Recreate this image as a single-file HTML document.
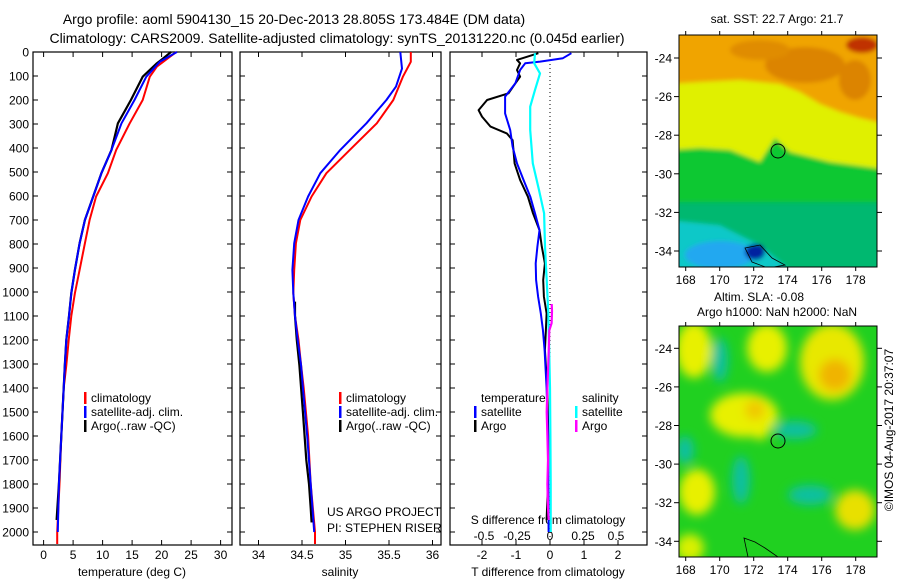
<!DOCTYPE html>
<html><head><meta charset="utf-8"><style>
body{margin:0;background:#fff;}
svg{display:block;font-family:"Liberation Sans",sans-serif;}
</style></head><body>
<svg id="c" width="900" height="580" viewBox="0 0 900 580" xmlns="http://www.w3.org/2000/svg">
<defs>
<clipPath id="m1"><rect x="679" y="35" width="198" height="232"/></clipPath>
<clipPath id="m2"><rect x="679" y="326" width="198" height="231"/></clipPath>
<filter id="bl" x="-50%" y="-50%" width="200%" height="200%"><feGaussianBlur stdDeviation="5"/></filter>
<filter id="bl2" x="-10%" y="-10%" width="120%" height="120%"><feGaussianBlur stdDeviation="2"/></filter>
</defs>
<g font-size="14" fill="#000">
<text x="294" y="24" text-anchor="middle">Argo profile: aoml 5904130_15 20-Dec-2013 28.805S 173.484E (DM data)</text>
<text x="337" y="43" text-anchor="middle">Climatology: CARS2009. Satellite-adjusted climatology: synTS_20131220.nc (0.045d earlier)</text>
</g>
<g id="axes"></g>
<g id="series"></g>
<g id="maps">
 <g clip-path="url(#m1)">
  <rect x="679" y="35" width="198" height="232" fill="#00b870"/>
  <g filter="url(#bl2)">
   <rect x="670" y="30" width="220" height="150" fill="#e0f000"/>
   <path d="M670 150 L700 148 L730 150 L760 162 L775 138 L790 152 L830 162 L890 170 V202 H670 Z" fill="#10c830"/>
   <path d="M670 30 H890 V125 L860 118 L840 112 L820 104 L800 92 L780 84 L740 80 L700 82 L670 84 Z" fill="#f0a400"/>
   <ellipse cx="805" cy="65" rx="40" ry="18" fill="#dc8400"/>
   <ellipse cx="855" cy="80" rx="16" ry="20" fill="#dc8400"/>
   <ellipse cx="760" cy="50" rx="30" ry="10" fill="#e08c00"/>
   <ellipse cx="862" cy="45" rx="16" ry="8" fill="#c03000"/>
   <path d="M670 220 L720 225 L760 245 L790 270 H670 Z" fill="#10c8c8"/>
   <ellipse cx="720" cy="255" rx="35" ry="14" fill="#20a8f0"/>
   <ellipse cx="755" cy="252" rx="10" ry="8" fill="#0020a0"/>
  </g>
  <path d="M745 248 L760 245 L772 258 L785 265 L768 268 L752 262 Z" fill="none" stroke="#000" stroke-width="0.8"/>
  <circle cx="778" cy="151" r="7" fill="none" stroke="#000" stroke-width="1"/>
 </g>
 <rect x="679" y="35" width="198" height="232" fill="none" stroke="#000" stroke-width="1"/>
 <g clip-path="url(#m2)">
  <rect x="679" y="326" width="198" height="231" fill="#20d020"/>
  <g filter="url(#bl)">
   <ellipse cx="694" cy="350" rx="18" ry="28" fill="#e8f000"/>
   <ellipse cx="767" cy="348" rx="20" ry="24" fill="#e8f000"/>
   <ellipse cx="832" cy="362" rx="32" ry="38" fill="#e8e800"/>
   <ellipse cx="835" cy="375" rx="16" ry="16" fill="#f0b400"/>
   <ellipse cx="744" cy="415" rx="34" ry="22" fill="#e8f000"/>
   <ellipse cx="760" cy="418" rx="12" ry="22" fill="#e8f000"/>
   <ellipse cx="755" cy="410" rx="10" ry="10" fill="#f0c800"/>
   <ellipse cx="697" cy="492" rx="18" ry="23" fill="#e8f000"/>
   <ellipse cx="855" cy="510" rx="20" ry="20" fill="#e8e000"/>
   <ellipse cx="690" cy="548" rx="14" ry="14" fill="#d8f000"/>
   <ellipse cx="720" cy="360" rx="8" ry="22" fill="#10c0a0"/>
   <ellipse cx="741" cy="480" rx="9" ry="24" fill="#10c0a0"/>
   <ellipse cx="810" cy="495" rx="22" ry="10" fill="#10c0a0"/>
   <ellipse cx="795" cy="430" rx="22" ry="9" fill="#10c0a0"/>
   <ellipse cx="685" cy="450" rx="9" ry="14" fill="#10c0a0"/>
  </g>
  <path d="M744 538 L755 542 L765 548 L778 557 L748 557 Z" fill="none" stroke="#000" stroke-width="0.8"/>
  <circle cx="778" cy="441" r="7" fill="none" stroke="#000" stroke-width="1"/>
 </g>
 <rect x="679" y="326" width="198" height="231" fill="none" stroke="#000" stroke-width="1"/>
 <text x="777" y="23" font-size="12" text-anchor="middle">sat. SST: 22.7  Argo: 21.7</text>
 <text x="759" y="301" font-size="12" text-anchor="middle">Altim. SLA: -0.08</text>
 <text x="777" y="316" font-size="12" text-anchor="middle">Argo h1000: NaN h2000: NaN</text>
 <text transform="translate(893,430) rotate(-90)" font-size="12" text-anchor="middle">©IMOS 04-Aug-2017 20:37:07</text>
</g>
</svg>
<script>
// depth levels (dbar)
const depthTicks = [0,100,200,300,400,500,600,700,800,900,1000,1100,1200,1300,1400,1500,1600,1700,1800,1900,2000];
const tempTicks = [0,5,10,15,20,25,30];
const salTicks = [34,34.5,35,35.5,36];
const salTickLabels = ["34","34.5","35","35.5","36"];
const tdiffTicks = [-2,-1,0,1,2];
const sdiffTicks = [-0.5,-0.25,0,0.25,0.5];
const sdiffTickLabels = ["-0.5","-0.25","0","0.25","0.5"];

const climDepth = [0,61,103,200,297,408,505,602,700,797,908,1005,1100,1200,1306,1400,1600,1800,2000,2050];
const climTemp = [22.5,19.2,18.0,16.8,14.6,12.3,10.9,8.9,7.8,7.0,6.1,5.3,4.7,4.25,3.85,3.4,3.0,2.7,2.3,2.3];
const satDepth = [0,41,103,200,297,408,505,602,700,797,908,1005,1100,1200,1306,1400,1600,1800,2000];
const satTemp = [22.6,19.7,17.4,15.4,13.2,11.5,9.8,8.4,7.0,6.1,5.3,4.7,4.3,3.85,3.6,3.4,3.0,2.6,2.4];
const argoTDepth = [0,28,49,103,200,297,408,505,602,700,797,908,1005,1100,1200,1306,1400,1600,1800,1950];
const argoTemp = [21.6,20.2,19.1,16.8,14.8,12.6,11.5,9.8,8.4,7.0,6.1,5.3,4.7,4.3,3.85,3.6,3.4,3.0,2.6,2.2];

const climSalDepth = [0,41,103,200,297,408,505,602,700,797,908,1005,1100,1200,1306,1400,1600,1800,2000,2050];
const climSal = [35.75,35.75,35.66,35.55,35.36,35.05,34.78,34.61,34.48,34.43,34.41,34.40,34.42,34.46,34.49,34.52,34.57,34.60,34.65,34.65];
const satSalDepth = [0,69,144,200,297,408,505,602,700,797,908,1005,1100,1200,1306,1400,1600,1800,2000];
const satSal = [35.63,35.65,35.58,35.47,35.24,34.94,34.71,34.57,34.46,34.41,34.39,34.40,34.42,34.45,34.49,34.51,34.56,34.60,34.64];
const argoSalDepth = [1040,1100,1200,1306,1400,1500,1600,1700,1800,1900,1960];
const argoSal = [34.42,34.42,34.44,34.47,34.49,34.51,34.53,34.55,34.58,34.60,34.61];

const tdSatDepth = [5,26,40,47,75,131,186,256,325,394,464,533,603,672,742,811,881,950,1019,1089,1158,1242,1400,1600,1800,2000];
const tdSat = [0.63,0.38,-0.29,-0.73,-0.88,-1.02,-1.32,-1.32,-1.17,-1.10,-0.97,-0.78,-0.58,-0.44,-0.31,-0.37,-0.42,-0.41,-0.35,-0.27,-0.21,-0.16,-0.10,-0.06,-0.05,-0.04];
const tdArgoDepth = [5,33,47,75,103,131,172,200,242,269,311,339,367,464,533,603,672,742,811,881,950,1019,1089,1158,1242,1400,1600,1800,1950];
const tdArgo = [-0.34,-0.97,-0.88,-0.97,-0.88,-1.02,-1.22,-1.85,-2.10,-2.00,-1.75,-1.27,-1.10,-1.04,-0.88,-0.65,-0.50,-0.31,-0.24,-0.15,-0.20,-0.18,-0.10,-0.12,-0.15,-0.08,-0.05,-0.06,-0.10];
const sdSatDepth = [5,47,89,158,228,325,464,575,672,811,950,1089,1242,1400,1600,1800,2000];
const sdSat = [-0.114,-0.12,-0.076,-0.114,-0.15,-0.15,-0.13,-0.083,-0.045,-0.038,-0.025,-0.013,-0.006,0.0,0.003,0.005,0.005];
const sdArgoDepth = [1050,1080,1130,1160,1250,1400,1500,1600,1700,1800,1900,1950];
const sdArgo = [0.013,0.015,0.012,-0.005,-0.01,-0.02,-0.025,-0.02,-0.015,-0.02,-0.015,-0.01];

const NS = "http://www.w3.org/2000/svg";
const svg = document.getElementById('c');
const axesG = document.getElementById('axes');
const serG = document.getElementById('series');
const Y0 = 52, YB = 545;
function yD(d){ return Y0 + d*0.24; }
function xT(t){ return 43.6 + t*5.9; }
function xS(s){ return 258.5 + (s-34)*87; }
function xTD(t){ return 550 + t*34; }
function xSD(s){ return 550 + s*132; }
function mk(tag, attrs, parent){ const e=document.createElementNS(NS,tag); for(const k in attrs) e.setAttribute(k,attrs[k]); parent.appendChild(e); return e; }
function txt(x,y,s,anchor,size,parent){ const e=mk('text',{x:x,y:y,'text-anchor':anchor,'font-size':size},parent); e.textContent=s; return e; }

const panels = [[33,232,'temperature-panel'],[240,441,'salinity-panel'],[450,647,'difference-panel']];
panels.forEach(p=>{
  const r = mk('rect',{x:p[0],y:Y0,width:p[1]-p[0],height:YB-Y0,fill:'none',stroke:'#000','stroke-width':1.2},axesG);
  
  
  depthTicks.forEach(d=>{
    mk('line',{x1:p[0],x2:p[0]+5,y1:yD(d),y2:yD(d),stroke:'#000'},axesG);
    mk('line',{x1:p[1]-5,x2:p[1],y1:yD(d),y2:yD(d),stroke:'#000'},axesG);
  });
});
depthTicks.forEach(d=>{
  const t = txt(29,yD(d)+4.5,String(d),'end',12,axesG);
  
  
});
tempTicks.forEach(v=>{
  const x=xT(v);
  mk('line',{x1:x,x2:x,y1:Y0,y2:Y0+5,stroke:'#000'},axesG);
  mk('line',{x1:x,x2:x,y1:YB-5,y2:YB,stroke:'#000'},axesG);
  const t=txt(x,559,String(v),'middle',12,axesG);
  
  
});
salTicks.forEach((v,i)=>{
  const x=xS(v);
  mk('line',{x1:x,x2:x,y1:Y0,y2:Y0+5,stroke:'#000'},axesG);
  mk('line',{x1:x,x2:x,y1:YB-5,y2:YB,stroke:'#000'},axesG);
  const t=txt(x,559,salTickLabels[i],'middle',12,axesG);
  
  
});
tdiffTicks.forEach(v=>{
  const x=xTD(v);
  mk('line',{x1:x,x2:x,y1:Y0,y2:Y0+5,stroke:'#000'},axesG);
  mk('line',{x1:x,x2:x,y1:YB-5,y2:YB,stroke:'#000'},axesG);
  const t=txt(x,559,String(v),'middle',12,axesG);
  
  
});
sdiffTicks.forEach((v,i)=>{
  const t=txt(xSD(v),540,sdiffTickLabels[i],'middle',12,axesG);
  
  
});
mk('line',{x1:550,x2:550,y1:Y0,y2:YB,stroke:'#000','stroke-dasharray':'1,3'},axesG);
[[132,'temperature (deg C)'],[340,'salinity'],[548,'T difference from climatology']].forEach(a=>{
  const t=txt(a[0],576,a[1],'middle',12,axesG);
  
  
});
let t1=txt(548,524,'S difference from climatology','middle',12,axesG);


let t2=txt(327,516,'US ARGO PROJECT','start',12,axesG);


let t3=txt(327,532,'PI: STEPHEN RISER','start',12,axesG);



// map ticks
const latTicks=[-24,-26,-28,-30,-32,-34];
const lonTicks=[168,170,172,174,176,178];
[[58,19.3,284],[348.3,19.3,574]].forEach((m,mi)=>{
  latTicks.forEach(l=>{
    const y=m[0]+(-24-l)*m[1];
    mk('line',{x1:674,x2:679,y1:y,y2:y,stroke:'#000'},axesG);
    mk('line',{x1:877,x2:882,y1:y,y2:y,stroke:'#000'},axesG);
    const t=txt(672,y+4.5,String(l),'end',12,axesG);
    
    
  });
  lonTicks.forEach(l=>{
    const x=685.7+(l-168)*17;
    const top = mi===0?35:326, bot = mi===0?267:557;
    mk('line',{x1:x,x2:x,y1:top-4,y2:top,stroke:'#000'},axesG);
    mk('line',{x1:x,x2:x,y1:bot,y2:bot+4,stroke:'#000'},axesG);
    const t=txt(x,m[2],String(l),'middle',12,axesG);
    
    
  });
});

function line(depths, vals, fx, color, w, name){
  const d = vals.map((v,i)=>(i?'L':'M')+fx(v).toFixed(1)+' '+yD(depths[i]).toFixed(1)).join(' ');
  const p = mk('path',{d:d,fill:'none',stroke:color,'stroke-width':w,'stroke-linejoin':'round'},serG);
  
  
}
line(climDepth, climTemp, xT, '#ff0000', 2, 'temp-climatology-line');
line(argoTDepth, argoTemp, xT, '#000000', 2.2, 'temp-argo-line');
line(satDepth, satTemp, xT, '#0000ff', 2, 'temp-satellite-line');
line(climSalDepth, climSal, xS, '#ff0000', 2, 'sal-climatology-line');
line(argoSalDepth, argoSal, xS, '#000000', 2.2, 'sal-argo-line');
line(satSalDepth, satSal, xS, '#0000ff', 2, 'sal-satellite-line');
line(tdArgoDepth, tdArgo, xTD, '#000000', 2, 'tdiff-argo-line');
line(tdSatDepth, tdSat, xTD, '#0000ff', 2, 'tdiff-satellite-line');
line(sdSatDepth, sdSat, xSD, '#00ffff', 2.2, 'sdiff-satellite-line');
line(sdArgoDepth, sdArgo, xSD, '#ff00ff', 2.2, 'sdiff-argo-line');

function legend(x, y, items, name){
  items.forEach((it,i)=>{
    if(it[0]) mk('rect',{x:x,y:y+i*14-10,width:2.5,height:12,fill:it[0]},serG);
    const t=txt(x+7,y+i*14,it[1],'start',12,serG);
    
    
  });
}
legend(84,402,[['#ff0000','climatology'],['#0000ff','satellite-adj. clim.'],['#000','Argo(..raw -QC)']],'temp-legend-entry');
legend(339,402,[['#ff0000','climatology'],['#0000ff','satellite-adj. clim.'],['#000','Argo(..raw -QC)']],'sal-legend-entry');
legend(474,402,[[null,'temperature'],['#0000ff','satellite'],['#000','Argo']],'tdiff-legend-entry');
legend(575,402,[[null,'salinity'],['#00ffff','satellite'],['#ff00ff','Argo']],'sdiff-legend-entry');
</script>
</body></html>
